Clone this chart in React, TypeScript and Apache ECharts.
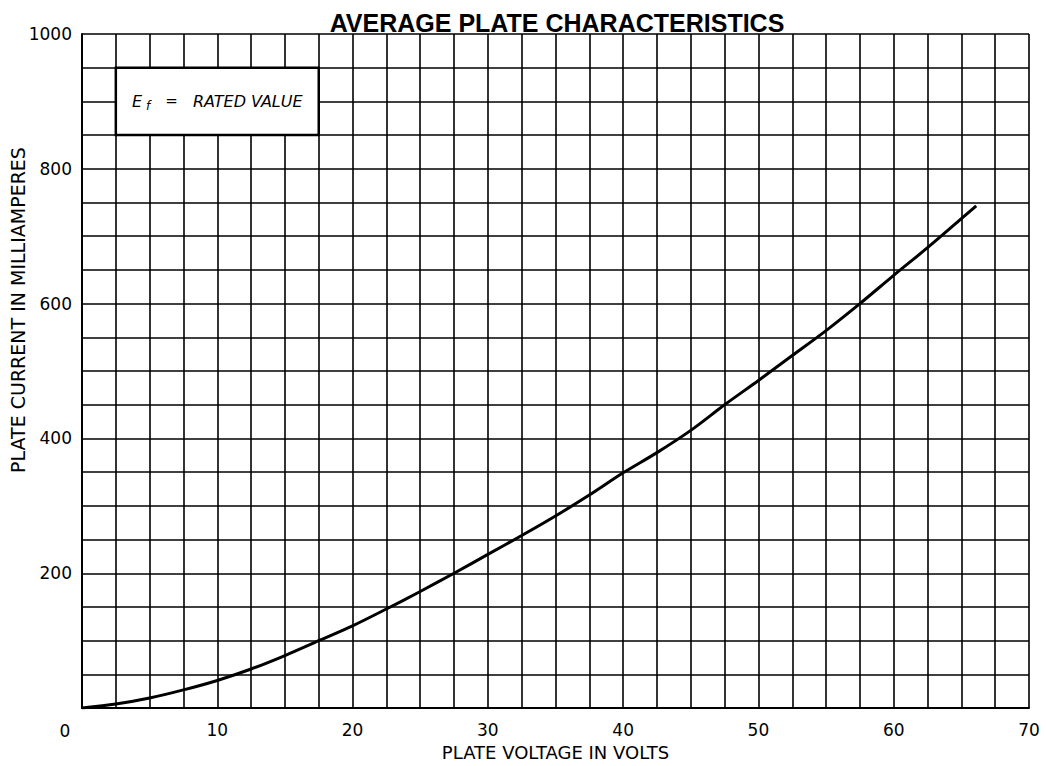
import React, { useEffect, useRef } from "react";
import * as echarts from "echarts";

const plateVoltage = [0, 2.5, 5, 7.5, 10, 12.5, 15, 17.5, 20, 22.5, 25, 27.5, 30, 32.5, 35, 37.5, 40, 42.5, 45, 47.5, 50, 52.5, 55, 57.5, 60, 62.5, 65, 66.1];
const plateCurrent = [0, 6, 15, 27, 41, 58, 78, 100, 122, 147, 173, 200, 228, 256, 285, 316, 349, 379, 412, 450, 486, 523, 560, 600, 642, 683, 726, 745];
const xTickLabels = [10, 20, 30, 40, 50, 60, 70];
const yTickLabels = [200, 400, 600, 800, 1000];
const cornerLabel = "0";
const titleText = "AVERAGE PLATE CHARACTERISTICS";
const xName = "PLATE VOLTAGE IN VOLTS";
const yName = "PLATE CURRENT IN MILLIAMPERES";
const noteBox = [[2.5, 950], [17.5, 850]];

const SANS = "'DejaVu Sans', sans-serif";

export default function App() {
  const ref = useRef<HTMLDivElement>(null);
  useEffect(() => {
    document.body.style.margin = "0";
    const chart = echarts.init(ref.current!, null, { renderer: "svg" });
    const gridLine = { lineStyle: { color: "#000", width: 1.6 } };
    chart.setOption({
      animation: false,
      backgroundColor: "#fff",
      title: {
        text: titleText,
        left: 552,
        top: 5,
        textAlign: "center",
        textStyle: { fontFamily: "'Liberation Sans', Arial, sans-serif", fontWeight: "bold", fontSize: 25, color: "#000" },
      },
      grid: { left: 82, right: 17, top: 34, bottom: 56, containLabel: false },
      xAxis: {
        type: "value",
        min: 0,
        max: 70,
        interval: 2.5,
        name: xName,
        nameLocation: "middle",
        nameGap: 32,
        nameTextStyle: { fontFamily: SANS, fontSize: 18, color: "#000" },
        axisLine: { show: true, lineStyle: { color: "#000", width: 2 } },
        axisTick: { show: false },
        splitLine: { show: true, ...gridLine },
        axisLabel: {
          margin: 13,
          fontFamily: SANS,
          fontSize: 17,
          color: "#000",
          showMinLabel: true,
          showMaxLabel: true,
          formatter: (v: number) => (xTickLabels.includes(v) ? String(v) : ""),
        },
      },
      yAxis: {
        type: "value",
        min: 0,
        max: 1000,
        interval: 50,
        axisLine: { show: true, lineStyle: { color: "#000", width: 2 } },
        axisTick: { show: false },
        splitLine: { show: true, ...gridLine },
        axisLabel: {
          margin: 10,
          fontFamily: SANS,
          fontSize: 17,
          color: "#000",
          formatter: (v: number) => (yTickLabels.includes(v) ? String(v) : ""),
        },
      },
      graphic: [
        {
          type: "text",
          x: 18,
          y: 310,
          rotation: Math.PI / 2,
          style: { text: yName, fontFamily: SANS, fontSize: 19, fill: "#000", align: "center", verticalAlign: "middle" },
        },
        {
          type: "text",
          x: 65,
          y: 731,
          style: { text: cornerLabel, fontFamily: SANS, fontSize: 17, fill: "#000", align: "center", verticalAlign: "middle" },
        },
      ],
      series: [
        {
          type: "line",
          data: plateVoltage.map((v, i) => [v, plateCurrent[i]]),
          smooth: 0.3,
          symbol: "none",
          lineStyle: { color: "#000", width: 3 },
          markArea: {
            silent: true,
            itemStyle: { color: "#fff", borderColor: "#000", borderWidth: 2.5, opacity: 1 },
            label: {
              show: true,
              position: "inside",
              formatter: "{e|E}{s|f}{q|=}{t|RATED VALUE}",
              rich: {
                e: { fontFamily: SANS, fontStyle: "italic", fontSize: 16, color: "#000", padding: [0, 4, 0, 0] },
                s: { fontFamily: SANS, fontStyle: "italic", fontSize: 12, color: "#000", verticalAlign: "top", padding: [10, 0, 0, 0] },
                q: { fontFamily: SANS, fontSize: 15, color: "#000", padding: [0, 15, 0, 15] },
                t: { fontFamily: SANS, fontStyle: "italic", fontSize: 16, color: "#000" },
              },
            },
            data: [[{ coord: noteBox[0] }, { coord: noteBox[1] }]],
          },
        },
      ],
    });
    return () => chart.dispose();
  }, []);
  return <div ref={ref} style={{ width: 1046, height: 766 }} />;
}
